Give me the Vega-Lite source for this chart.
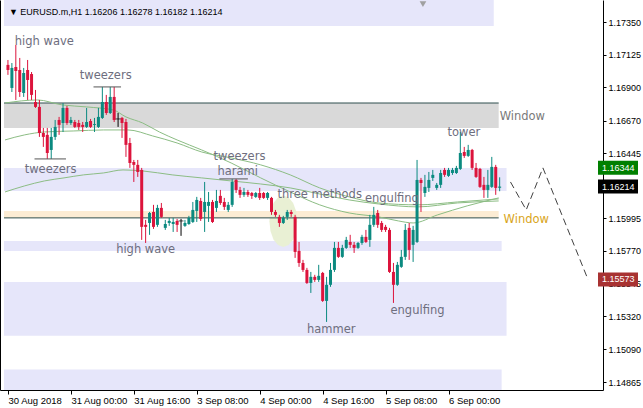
{
  "$schema": "https://vega.github.io/schema/vega-lite/v6.json",
  "width": 603,
  "height": 390,
  "autosize": {"type": "none"},
  "padding": {"left": 0, "top": 0, "right": 40, "bottom": 18},
  "background": "white",
  "view": {"stroke": null},
  "config": {"font": "Liberation Sans"},
  "datasets": {
    "zones": [
      {"i1": -1, "i2": 123.5, "p1": 1.17323, "p2": 1.176, "k": "lav"},
      {"i1": -1, "i2": 124.75, "p1": 1.16619, "p2": 1.16791, "k": "gray"},
      {"i1": -1, "i2": 126.75, "p1": 1.16184, "p2": 1.16343, "k": "lav"},
      {"i1": -1, "i2": 124.75, "p1": 1.15998, "p2": 1.16046, "k": "beige"},
      {"i1": -1, "i2": 125.5, "p1": 1.1577, "p2": 1.15839, "k": "lav"},
      {"i1": -1, "i2": 126.75, "p1": 1.15184, "p2": 1.15556, "k": "lav"},
      {"i1": -1, "i2": 125.5, "p1": 1.147, "p2": 1.14951, "k": "lav"}
    ],
    "zlines": [
      {"i1": -1, "i2": 124.75, "p": 1.16791},
      {"i1": -1, "i2": 124.75, "p": 1.15998}
    ],
    "segs": [
      {"i1": 21.75, "i2": 28.75, "p": 1.16902},
      {"i1": 6.75, "i2": 14.75, "p": 1.16405},
      {"i1": 53.75, "i2": 61, "p": 1.16267}
    ],
    "ellipse": [{"i": 70, "p": 1.15975}],
    "marker": [{"i": 105.5, "p": 1.17474}],
    "ma": [
      {"s": "A", "i": -0.75, "p": 1.16791}, {"s": "A", "i": 7.5, "p": 1.16812}, {"s": "A", "i": 13.75, "p": 1.16778}, {"s": "A", "i": 20, "p": 1.16764}, {"s": "A", "i": 26.75, "p": 1.16743}, {"s": "A", "i": 30, "p": 1.16695}, {"s": "A", "i": 34.25, "p": 1.16653}, {"s": "A", "i": 38.5, "p": 1.16591}, {"s": "A", "i": 43, "p": 1.16536}, {"s": "A", "i": 49.25, "p": 1.16467}, {"s": "A", "i": 56.75, "p": 1.16377}, {"s": "A", "i": 64.25, "p": 1.16274}, {"s": "A", "i": 71.75, "p": 1.16177}, {"s": "A", "i": 79.25, "p": 1.16088}, {"s": "A", "i": 86.75, "p": 1.16032}, {"s": "A", "i": 94.25, "p": 1.16005}, {"s": "A", "i": 99.25, "p": 1.15977}, {"s": "A", "i": 103, "p": 1.15963}, {"s": "A", "i": 109.25, "p": 1.16019}, {"s": "A", "i": 116.75, "p": 1.16081}, {"s": "A", "i": 124.75, "p": 1.16136},
      {"s": "B", "i": -0.75, "p": 1.16536}, {"s": "B", "i": 4.25, "p": 1.16571}, {"s": "B", "i": 9.25, "p": 1.16591}, {"s": "B", "i": 16.75, "p": 1.16598}, {"s": "B", "i": 24.25, "p": 1.16605}, {"s": "B", "i": 30.5, "p": 1.16605}, {"s": "B", "i": 36.75, "p": 1.16564}, {"s": "B", "i": 43, "p": 1.16515}, {"s": "B", "i": 49.25, "p": 1.16453}, {"s": "B", "i": 56.75, "p": 1.16412}, {"s": "B", "i": 64.25, "p": 1.16364}, {"s": "B", "i": 71.75, "p": 1.16295}, {"s": "B", "i": 79.25, "p": 1.16205}, {"s": "B", "i": 86.75, "p": 1.16143}, {"s": "B", "i": 94.25, "p": 1.16101}, {"s": "B", "i": 104.25, "p": 1.16088}, {"s": "B", "i": 114.25, "p": 1.16108}, {"s": "B", "i": 124.75, "p": 1.16129},
      {"s": "C", "i": -0.75, "p": 1.16177}, {"s": "C", "i": 4.25, "p": 1.16219}, {"s": "C", "i": 9.25, "p": 1.16253}, {"s": "C", "i": 14.25, "p": 1.16274}, {"s": "C", "i": 19.25, "p": 1.16295}, {"s": "C", "i": 24.25, "p": 1.16308}, {"s": "C", "i": 29.25, "p": 1.16329}, {"s": "C", "i": 34.25, "p": 1.16322}, {"s": "C", "i": 41.75, "p": 1.16295}, {"s": "C", "i": 49.25, "p": 1.16274}, {"s": "C", "i": 56.75, "p": 1.16253}, {"s": "C", "i": 64.25, "p": 1.16232}, {"s": "C", "i": 71.75, "p": 1.16205}, {"s": "C", "i": 79.25, "p": 1.16163}, {"s": "C", "i": 86.75, "p": 1.16122}, {"s": "C", "i": 94.25, "p": 1.16094}, {"s": "C", "i": 104.25, "p": 1.16074}, {"s": "C", "i": 114.25, "p": 1.16101}, {"s": "C", "i": 124.75, "p": 1.16115}
    ],
    "bars": [
      {"i":0,"o":1.17054,"h":1.17088,"l":1.16985,"c":1.17019},
      {"i":1,"o":1.16895,"h":1.17067,"l":1.16867,"c":1.17033},
      {"i":2,"o":1.1704,"h":1.17192,"l":1.16812,"c":1.17012},
      {"i":3,"o":1.17019,"h":1.17102,"l":1.16833,"c":1.16867},
      {"i":4,"o":1.1686,"h":1.17033,"l":1.16833,"c":1.16998},
      {"i":5,"o":1.17019,"h":1.17088,"l":1.16812,"c":1.1695},
      {"i":6,"o":1.16991,"h":1.17005,"l":1.16812,"c":1.16847},
      {"i":7,"o":1.16798,"h":1.16881,"l":1.16757,"c":1.16764},
      {"i":8,"o":1.16764,"h":1.16812,"l":1.16557,"c":1.16584},
      {"i":9,"o":1.16584,"h":1.16619,"l":1.16488,"c":1.16557},
      {"i":10,"o":1.16571,"h":1.16619,"l":1.16405,"c":1.16446},
      {"i":11,"o":1.16467,"h":1.16619,"l":1.16405,"c":1.16557},
      {"i":12,"o":1.16557,"h":1.16674,"l":1.16536,"c":1.16626},
      {"i":13,"o":1.16674,"h":1.16695,"l":1.16571,"c":1.1664},
      {"i":14,"o":1.16653,"h":1.16791,"l":1.16591,"c":1.16757},
      {"i":15,"o":1.16757,"h":1.16771,"l":1.1664,"c":1.16653},
      {"i":16,"o":1.16653,"h":1.16695,"l":1.1664,"c":1.16674},
      {"i":17,"o":1.1666,"h":1.16674,"l":1.16619,"c":1.16626},
      {"i":18,"o":1.16653,"h":1.16674,"l":1.16605,"c":1.16626},
      {"i":19,"o":1.1664,"h":1.1666,"l":1.16591,"c":1.16626},
      {"i":20,"o":1.16626,"h":1.16757,"l":1.16619,"c":1.1666},
      {"i":21,"o":1.16667,"h":1.16681,"l":1.16619,"c":1.16626},
      {"i":22,"o":1.1664,"h":1.16688,"l":1.16591,"c":1.16646},
      {"i":23,"o":1.16626,"h":1.16757,"l":1.16619,"c":1.16695},
      {"i":24,"o":1.16688,"h":1.16902,"l":1.16681,"c":1.16798},
      {"i":25,"o":1.16798,"h":1.16847,"l":1.16709,"c":1.16722},
      {"i":26,"o":1.16722,"h":1.16902,"l":1.16715,"c":1.16833},
      {"i":27,"o":1.16833,"h":1.16902,"l":1.1666,"c":1.16674},
      {"i":28,"o":1.16681,"h":1.16722,"l":1.16626,"c":1.16681},
      {"i":29,"o":1.16688,"h":1.16695,"l":1.1655,"c":1.16653},
      {"i":30,"o":1.1666,"h":1.16681,"l":1.16419,"c":1.16502},
      {"i":31,"o":1.16515,"h":1.1655,"l":1.16343,"c":1.16377},
      {"i":32,"o":1.16384,"h":1.16398,"l":1.16246,"c":1.16364},
      {"i":33,"o":1.16364,"h":1.16398,"l":1.16281,"c":1.16315},
      {"i":34,"o":1.16329,"h":1.16343,"l":1.15846,"c":1.15936},
      {"i":35,"o":1.1595,"h":1.15984,"l":1.15825,"c":1.15936},
      {"i":36,"o":1.15963,"h":1.16039,"l":1.15881,"c":1.16032},
      {"i":37,"o":1.16039,"h":1.16088,"l":1.15922,"c":1.15936},
      {"i":38,"o":1.1595,"h":1.16088,"l":1.15936,"c":1.16067},
      {"i":39,"o":1.16067,"h":1.16101,"l":1.15998,"c":1.16005},
      {"i":40,"o":1.15929,"h":1.15984,"l":1.15915,"c":1.15956},
      {"i":41,"o":1.15963,"h":1.15998,"l":1.15943,"c":1.15977},
      {"i":42,"o":1.15956,"h":1.15998,"l":1.15901,"c":1.1597},
      {"i":43,"o":1.15977,"h":1.15991,"l":1.15901,"c":1.1595},
      {"i":44,"o":1.15977,"h":1.15991,"l":1.15874,"c":1.15977},
      {"i":45,"o":1.15943,"h":1.15984,"l":1.15936,"c":1.15963},
      {"i":46,"o":1.15956,"h":1.16012,"l":1.1595,"c":1.15998},
      {"i":47,"o":1.1597,"h":1.16108,"l":1.15963,"c":1.16053},
      {"i":48,"o":1.16046,"h":1.16143,"l":1.1597,"c":1.16122},
      {"i":49,"o":1.16115,"h":1.16136,"l":1.15977,"c":1.15991},
      {"i":50,"o":1.16039,"h":1.16246,"l":1.15901,"c":1.16108},
      {"i":51,"o":1.16081,"h":1.16177,"l":1.1597,"c":1.16108},
      {"i":52,"o":1.16108,"h":1.16122,"l":1.15963,"c":1.1597},
      {"i":53,"o":1.16067,"h":1.16191,"l":1.16039,"c":1.16115},
      {"i":54,"o":1.1615,"h":1.16191,"l":1.16088,"c":1.16101},
      {"i":55,"o":1.16108,"h":1.16136,"l":1.16053,"c":1.16074},
      {"i":56,"o":1.16053,"h":1.16108,"l":1.16039,"c":1.16088},
      {"i":57,"o":1.16088,"h":1.16267,"l":1.16074,"c":1.16246},
      {"i":58,"o":1.1626,"h":1.16267,"l":1.1617,"c":1.16191},
      {"i":59,"o":1.16191,"h":1.16212,"l":1.16136,"c":1.16157},
      {"i":60,"o":1.16157,"h":1.16205,"l":1.16143,"c":1.16177},
      {"i":61,"o":1.16177,"h":1.16191,"l":1.16143,"c":1.16157},
      {"i":62,"o":1.1617,"h":1.16177,"l":1.16129,"c":1.1615},
      {"i":63,"o":1.16143,"h":1.16177,"l":1.16136,"c":1.1617},
      {"i":64,"o":1.1617,"h":1.16205,"l":1.16122,"c":1.16136},
      {"i":65,"o":1.1617,"h":1.16177,"l":1.16129,"c":1.16136},
      {"i":66,"o":1.16136,"h":1.16177,"l":1.16122,"c":1.1617},
      {"i":67,"o":1.16136,"h":1.16143,"l":1.16019,"c":1.16039},
      {"i":68,"o":1.16039,"h":1.16053,"l":1.16005,"c":1.16019},
      {"i":69,"o":1.16005,"h":1.16019,"l":1.15936,"c":1.15963},
      {"i":70,"o":1.15963,"h":1.16012,"l":1.15956,"c":1.15998},
      {"i":71,"o":1.16005,"h":1.16053,"l":1.15984,"c":1.16039},
      {"i":72,"o":1.16039,"h":1.16053,"l":1.16005,"c":1.16025},
      {"i":73,"o":1.16005,"h":1.16019,"l":1.15722,"c":1.15763},
      {"i":74,"o":1.1577,"h":1.15832,"l":1.1566,"c":1.15687},
      {"i":75,"o":1.15687,"h":1.15708,"l":1.15625,"c":1.15639},
      {"i":76,"o":1.15639,"h":1.15653,"l":1.15542,"c":1.15549},
      {"i":77,"o":1.15549,"h":1.15625,"l":1.1548,"c":1.15591},
      {"i":78,"o":1.15591,"h":1.15605,"l":1.15556,"c":1.1557},
      {"i":79,"o":1.1557,"h":1.15674,"l":1.15556,"c":1.15598},
      {"i":80,"o":1.15618,"h":1.15625,"l":1.15418,"c":1.15425},
      {"i":81,"o":1.15425,"h":1.15591,"l":1.1528,"c":1.15536},
      {"i":82,"o":1.15536,"h":1.15687,"l":1.15522,"c":1.15639},
      {"i":83,"o":1.15639,"h":1.15832,"l":1.15625,"c":1.15791},
      {"i":84,"o":1.15791,"h":1.15832,"l":1.15722,"c":1.15729},
      {"i":85,"o":1.15729,"h":1.15812,"l":1.15722,"c":1.15791},
      {"i":86,"o":1.15791,"h":1.15867,"l":1.15784,"c":1.15846},
      {"i":87,"o":1.15832,"h":1.15881,"l":1.15791,"c":1.15812},
      {"i":88,"o":1.15812,"h":1.15832,"l":1.15756,"c":1.15791},
      {"i":89,"o":1.15791,"h":1.15832,"l":1.15784,"c":1.15825},
      {"i":90,"o":1.15825,"h":1.15881,"l":1.15812,"c":1.15867},
      {"i":91,"o":1.15867,"h":1.15915,"l":1.15825,"c":1.15832},
      {"i":92,"o":1.15846,"h":1.16019,"l":1.15798,"c":1.1595},
      {"i":93,"o":1.1595,"h":1.16074,"l":1.15936,"c":1.16019},
      {"i":94,"o":1.16032,"h":1.16053,"l":1.15929,"c":1.1595},
      {"i":95,"o":1.15963,"h":1.15977,"l":1.15901,"c":1.15915},
      {"i":96,"o":1.15936,"h":1.1595,"l":1.15901,"c":1.15915},
      {"i":97,"o":1.15915,"h":1.15929,"l":1.15618,"c":1.15625},
      {"i":98,"o":1.15625,"h":1.15687,"l":1.15411,"c":1.15536},
      {"i":99,"o":1.15536,"h":1.15694,"l":1.15529,"c":1.15674},
      {"i":100,"o":1.1566,"h":1.15777,"l":1.15653,"c":1.15729},
      {"i":101,"o":1.15729,"h":1.15956,"l":1.15708,"c":1.15915},
      {"i":102,"o":1.15929,"h":1.15963,"l":1.15708,"c":1.15777},
      {"i":103,"o":1.15812,"h":1.15943,"l":1.15694,"c":1.15915},
      {"i":104,"o":1.15832,"h":1.16398,"l":1.15825,"c":1.1626},
      {"i":105,"o":1.1626,"h":1.16274,"l":1.16039,"c":1.16239},
      {"i":106,"o":1.1617,"h":1.16295,"l":1.16143,"c":1.16212},
      {"i":107,"o":1.16205,"h":1.16315,"l":1.16177,"c":1.1626},
      {"i":108,"o":1.16274,"h":1.16329,"l":1.16253,"c":1.16295},
      {"i":109,"o":1.16205,"h":1.16239,"l":1.16191,"c":1.16226},
      {"i":110,"o":1.16226,"h":1.16329,"l":1.16205,"c":1.16308},
      {"i":111,"o":1.16329,"h":1.16343,"l":1.16281,"c":1.16295},
      {"i":112,"o":1.16288,"h":1.16343,"l":1.16281,"c":1.16329},
      {"i":113,"o":1.16308,"h":1.16343,"l":1.16295,"c":1.16329},
      {"i":114,"o":1.16308,"h":1.16357,"l":1.16301,"c":1.16343},
      {"i":115,"o":1.16336,"h":1.16591,"l":1.16329,"c":1.16446},
      {"i":116,"o":1.16453,"h":1.16488,"l":1.16412,"c":1.16426},
      {"i":117,"o":1.16426,"h":1.16502,"l":1.16419,"c":1.16467},
      {"i":118,"o":1.16467,"h":1.16474,"l":1.16329,"c":1.16343},
      {"i":119,"o":1.16343,"h":1.16377,"l":1.16274,"c":1.16281},
      {"i":120,"o":1.16336,"h":1.16343,"l":1.16205,"c":1.16212},
      {"i":121,"o":1.16226,"h":1.16281,"l":1.16136,"c":1.16191},
      {"i":122,"o":1.16191,"h":1.16329,"l":1.16136,"c":1.16226},
      {"i":123,"o":1.16212,"h":1.16419,"l":1.16205,"c":1.1635},
      {"i":124,"o":1.1635,"h":1.16364,"l":1.16157,"c":1.16205},
      {"i":125,"o":1.16206,"h":1.16278,"l":1.16182,"c":1.16214}
    ],
    "zigzag": [
      {"o": 1, "i": 127.75, "p": 1.16246},
      {"o": 2, "i": 131.75, "p": 1.16053},
      {"o": 3, "i": 136, "p": 1.16343},
      {"o": 4, "i": 147.5, "p": 1.1557}
    ],
    "notes": [
      {"t": "high wave", "i": 1.75, "p": 1.17212},
      {"t": "tweezers", "i": 18.25, "p": 1.16978},
      {"t": "tweezers", "i": 4.25, "p": 1.16329},
      {"t": "high wave", "i": 27.5, "p": 1.15777},
      {"t": "tweezers", "i": 52.25, "p": 1.16419},
      {"t": "harami", "i": 53.25, "p": 1.16315},
      {"t": "three methods", "i": 68.5, "p": 1.16157},
      {"t": "engulfing", "i": 90.75, "p": 1.16129},
      {"t": "tower", "i": 111.75, "p": 1.16584},
      {"t": "hammer", "i": 76, "p": 1.15225},
      {"t": "engulfing", "i": 97.25, "p": 1.15356}
    ],
    "windows": [
      {"t": "Window", "i": 125, "p": 1.16695, "k": "upper"},
      {"t": "Window", "i": 126, "p": 1.15984, "k": "lower"}
    ],
    "header": [
      {"t": "▼ EURUSD.m,H1  1.16206 1.16278 1.16182 1.16214", "i": 0.25, "p": 1.17419}
    ],
    "tags": [
      {"t": "1.16344", "p": 1.16344, "k": "ask", "i": 150, "ti": 151},
      {"t": "1.16214", "p": 1.16214, "k": "bid", "i": 150, "ti": 151},
      {"t": "1.15573", "p": 1.15573, "k": "stop", "i": 150, "ti": 151}
    ]
  },
  "layer": [
    {
      "data": {"name": "zones"},
      "mark": {"type": "rect", "clip": true},
      "encoding": {
        "x": {"field": "i1", "type": "quantitative", "scale": {"domain": [-0.75, 150], "nice": false, "zero": false}, "axis": null},
        "x2": {"field": "i2"},
        "y": {"field": "p1", "type": "quantitative", "scale": {"domain": [1.1481, 1.17502], "nice": false, "zero": false},
          "axis": {"orient": "left", "labels": false, "ticks": false, "grid": false, "title": null, "domain": true, "domainColor": "#000000", "domainWidth": 1, "zindex": 1}},
        "y2": {"field": "p2"},
        "color": {"field": "k", "type": "nominal", "scale": {"domain": ["lav", "gray", "beige"], "range": ["#e6e6fa", "#d9d9d9", "#fcecd4"]}, "legend": null}
      }
    },
    {
      "data": {"name": "ellipse"},
      "mark": {"type": "point", "filled": true, "color": "#e9f0d4", "opacity": 1, "size": 2650,
        "shape": "M0.54,0L0.499,0.383L0.382,0.707L0.207,0.924L0,1L-0.207,0.924L-0.382,0.707L-0.499,0.383L-0.54,0L-0.499,-0.383L-0.382,-0.707L-0.207,-0.924L0,-1L0.207,-0.924L0.382,-0.707L0.499,-0.383Z"},
      "encoding": {
        "x": {"field": "i", "type": "quantitative", "scale": {"domain": [-0.75, 150], "nice": false, "zero": false}, "axis": null},
        "y": {"field": "p", "type": "quantitative", "scale": {"domain": [1.1481, 1.17502], "nice": false, "zero": false}, "axis": null}
      }
    },
    {
      "data": {"name": "zlines"},
      "mark": {"type": "rule", "clip": true, "color": "#2f4f4f", "strokeWidth": 1},
      "encoding": {
        "x": {"field": "i1", "type": "quantitative", "scale": {"domain": [-0.75, 150], "nice": false, "zero": false}, "axis": null},
        "x2": {"field": "i2"},
        "y": {"field": "p", "type": "quantitative", "scale": {"domain": [1.1481, 1.17502], "nice": false, "zero": false}, "axis": null}
      }
    },
    {
      "mark": {"type": "rule", "color": "#c0c0c0", "strokeWidth": 1},
      "encoding": {"y": {"datum": 1.16214, "type": "quantitative", "scale": {"domain": [1.1481, 1.17502], "nice": false, "zero": false}, "axis": null}}
    },
    {
      "data": {"name": "ma"},
      "mark": {"type": "line", "interpolate": "monotone", "color": "#8cbd84", "strokeWidth": 1, "clip": true},
      "encoding": {
        "x": {"field": "i", "type": "quantitative", "scale": {"domain": [-0.75, 150], "nice": false, "zero": false}, "axis": null},
        "y": {"field": "p", "type": "quantitative", "scale": {"domain": [1.1481, 1.17502], "nice": false, "zero": false}, "axis": null},
        "detail": {"field": "s", "type": "nominal"}
      }
    },
    {
      "data": {"name": "bars"},
      "mark": {"type": "rule", "strokeWidth": 1},
      "encoding": {
        "x": {"field": "i", "type": "quantitative", "scale": {"domain": [-0.75, 150], "nice": false, "zero": false},
          "axis": {"orient": "bottom", "values": [0, 16, 32, 48, 64, 80, 96, 112], "grid": false, "title": null, "domain": true, "domainColor": "#000000", "tickColor": "#000000", "tickSize": 4, "labelAlign": "left", "labelBaseline": "top", "labelPadding": 1, "labelFontSize": 9.5, "labelColor": "#000000", "labelFont": "Liberation Sans", "labelFlush": false, "labelOverlap": false, "zindex": 1,
            "labelExpr": "datum.value==0?'30 Aug 2018':datum.value==16?'31 Aug 00:00':datum.value==32?'31 Aug 16:00':datum.value==48?'3 Sep 08:00':datum.value==64?'4 Sep 00:00':datum.value==80?'4 Sep 16:00':datum.value==96?'5 Sep 08:00':'6 Sep 00:00'"}},
        "y": {"field": "l", "type": "quantitative", "scale": {"domain": [1.1481, 1.17502], "nice": false, "zero": false},
          "axis": {"orient": "right", "values": [1.1735, 1.17125, 1.169, 1.1667, 1.16445, 1.15995, 1.1577, 1.15545, 1.1532, 1.1509, 1.14865], "format": ".5f", "grid": false, "title": null, "domainColor": "#000000", "tickColor": "#000000", "tickSize": 3, "labelPadding": 2, "labelFontSize": 9, "labelColor": "#000000", "labelFont": "Liberation Sans", "labelFlush": false, "labelOverlap": false, "zindex": 0}},
        "y2": {"field": "h"},
        "color": {"condition": [{"test": "datum.c > datum.o", "value": "#0b8a80"}, {"test": "datum.c < datum.o", "value": "#dc143c"}], "value": "#000000"}
      }
    },
    {
      "data": {"name": "bars"},
      "mark": {"type": "bar", "size": 3},
      "encoding": {
        "x": {"field": "i", "type": "quantitative", "scale": {"domain": [-0.75, 150], "nice": false, "zero": false}, "axis": null},
        "y": {"field": "o", "type": "quantitative", "scale": {"domain": [1.1481, 1.17502], "nice": false, "zero": false}, "axis": null},
        "y2": {"field": "c"},
        "color": {"condition": [{"test": "datum.c > datum.o", "value": "#0b8a80"}, {"test": "datum.c < datum.o", "value": "#dc143c"}], "value": "#000000"}
      }
    },
    {
      "data": {"name": "bars"},
      "transform": [{"filter": "datum.o == datum.c"}],
      "mark": {"type": "tick", "orient": "horizontal", "size": 5, "thickness": 1, "color": "#000000"},
      "encoding": {
        "x": {"field": "i", "type": "quantitative", "scale": {"domain": [-0.75, 150], "nice": false, "zero": false}, "axis": null},
        "y": {"field": "o", "type": "quantitative", "scale": {"domain": [1.1481, 1.17502], "nice": false, "zero": false}, "axis": null}
      }
    },
    {
      "mark": {"type": "rule", "color": "#008000", "strokeWidth": 1, "strokeDash": [3, 3]},
      "encoding": {"y": {"datum": 1.16344, "type": "quantitative", "scale": {"domain": [1.1481, 1.17502], "nice": false, "zero": false}, "axis": null}}
    },
    {
      "mark": {"type": "rule", "color": "#a83232", "strokeWidth": 1, "strokeDash": [3, 3]},
      "encoding": {"y": {"datum": 1.15573, "type": "quantitative", "scale": {"domain": [1.1481, 1.17502], "nice": false, "zero": false}, "axis": null}}
    },
    {
      "data": {"name": "segs"},
      "mark": {"type": "rule", "color": "#555555", "strokeWidth": 1},
      "encoding": {
        "x": {"field": "i1", "type": "quantitative", "scale": {"domain": [-0.75, 150], "nice": false, "zero": false}, "axis": null},
        "x2": {"field": "i2"},
        "y": {"field": "p", "type": "quantitative", "scale": {"domain": [1.1481, 1.17502], "nice": false, "zero": false}, "axis": null}
      }
    },
    {
      "data": {"name": "zigzag"},
      "mark": {"type": "line", "color": "#404040", "strokeWidth": 1, "strokeDash": [7, 4]},
      "encoding": {
        "x": {"field": "i", "type": "quantitative", "scale": {"domain": [-0.75, 150], "nice": false, "zero": false}, "axis": null},
        "y": {"field": "p", "type": "quantitative", "scale": {"domain": [1.1481, 1.17502], "nice": false, "zero": false}, "axis": null},
        "order": {"field": "o", "type": "quantitative"}
      }
    },
    {
      "data": {"name": "marker"},
      "mark": {"type": "point", "shape": "triangle-down", "filled": true, "color": "#a0a0a0", "opacity": 1, "size": 45},
      "encoding": {
        "x": {"field": "i", "type": "quantitative", "scale": {"domain": [-0.75, 150], "nice": false, "zero": false}, "axis": null},
        "y": {"field": "p", "type": "quantitative", "scale": {"domain": [1.1481, 1.17502], "nice": false, "zero": false}, "axis": null}
      }
    },
    {
      "data": {"name": "notes"},
      "mark": {"type": "text", "align": "left", "baseline": "middle", "font": "DejaVu Sans", "fontSize": 11.5, "color": "#6e6e7e"},
      "encoding": {
        "x": {"field": "i", "type": "quantitative", "scale": {"domain": [-0.75, 150], "nice": false, "zero": false}, "axis": null},
        "y": {"field": "p", "type": "quantitative", "scale": {"domain": [1.1481, 1.17502], "nice": false, "zero": false}, "axis": null},
        "text": {"field": "t"}
      }
    },
    {
      "data": {"name": "windows"},
      "mark": {"type": "text", "align": "left", "baseline": "middle", "font": "DejaVu Sans", "fontSize": 11.5},
      "encoding": {
        "x": {"field": "i", "type": "quantitative", "scale": {"domain": [-0.75, 150], "nice": false, "zero": false}, "axis": null},
        "y": {"field": "p", "type": "quantitative", "scale": {"domain": [1.1481, 1.17502], "nice": false, "zero": false}, "axis": null},
        "text": {"field": "t"},
        "color": {"field": "k", "type": "nominal", "scale": {"domain": ["upper", "lower"], "range": ["#7a7a7a", "#d9a521"]}, "legend": null}
      }
    },
    {
      "data": {"name": "header"},
      "mark": {"type": "text", "align": "left", "baseline": "middle", "font": "Liberation Sans", "fontSize": 9, "color": "#000000"},
      "encoding": {
        "x": {"field": "i", "type": "quantitative", "scale": {"domain": [-0.75, 150], "nice": false, "zero": false}, "axis": null},
        "y": {"field": "p", "type": "quantitative", "scale": {"domain": [1.1481, 1.17502], "nice": false, "zero": false}, "axis": null},
        "text": {"field": "t"}
      }
    },
    {
      "data": {"name": "tags"},
      "mark": {"type": "point", "filled": true, "opacity": 1, "size": 1600, "shape": "M0,-0.35L2,-0.35L2,0.35L0,0.35Z"},
      "encoding": {
        "x": {"field": "i", "type": "quantitative", "scale": {"domain": [-0.75, 150], "nice": false, "zero": false}, "axis": null},
        "y": {"field": "p", "type": "quantitative", "scale": {"domain": [1.1481, 1.17502], "nice": false, "zero": false}, "axis": null},
        "color": {"field": "k", "type": "nominal", "scale": {"domain": ["ask", "bid", "stop"], "range": ["#008000", "#000000", "#a83232"]}, "legend": null}
      }
    },
    {
      "data": {"name": "tags"},
      "mark": {"type": "text", "align": "left", "baseline": "middle", "font": "Liberation Sans", "fontSize": 9, "color": "#ffffff"},
      "encoding": {
        "x": {"field": "ti", "type": "quantitative", "scale": {"domain": [-0.75, 150], "nice": false, "zero": false}, "axis": null},
        "y": {"field": "p", "type": "quantitative", "scale": {"domain": [1.1481, 1.17502], "nice": false, "zero": false}, "axis": null},
        "text": {"field": "t"}
      }
    }
  ],
  "resolve": {"axis": {"y": "independent", "x": "independent"}, "scale": {"color": "independent"}}
}
